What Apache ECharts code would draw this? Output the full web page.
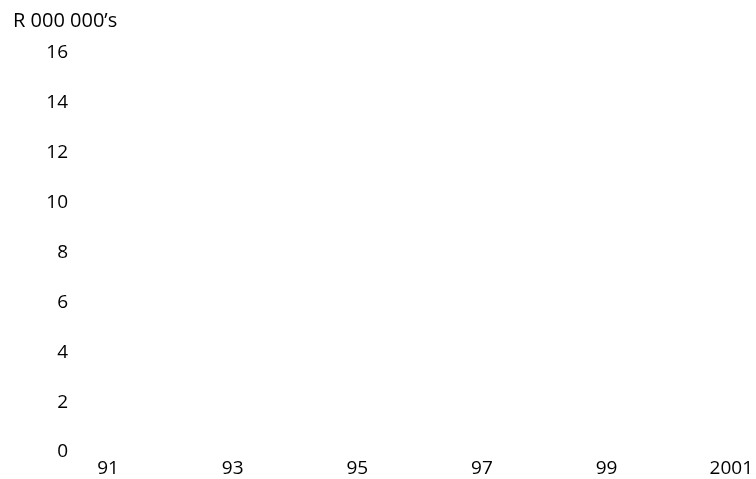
<!DOCTYPE html>
<html>
<head>
<meta charset="utf-8">
<script src="https://cdn.jsdelivr.net/npm/echarts@6/dist/echarts.min.js"></script>
<style>
html,body{margin:0;padding:0;background:#fff;}
#chart{width:756px;height:479px;}
</style>
</head>
<body>
<div id="chart"></div>
<script>
const years = ['91','92','93','94','95','96','97','98','99','2000','2001'];
const seriesValues = []; // the reference shows no plotted data
const yTicks = [0, 2, 4, 6, 8, 10, 12, 14, 16];
const unitLabel = 'R 000 000\u2019s';

const FONT = '"Open Sans", sans-serif';
const FS = 19;
const chart = echarts.init(document.getElementById('chart'));
chart.setOption({
  animation: false,
  backgroundColor: '#fff',
  title: {
    text: unitLabel,
    left: 8, top: 6,
    textStyle: { fontFamily: FONT, fontSize: 20, fontWeight: 'normal', color: '#000' }
  },
  grid: { left: 108, right: 24, top: 53, bottom: 27, containLabel: false },
  xAxis: {
    type: 'category',
    data: years,
    boundaryGap: false,
    axisLine: { show: false },
    axisTick: { show: false },
    splitLine: { show: false },
    axisLabel: {
      interval: 1,
      margin: 7,
      fontFamily: FONT, fontSize: FS, color: '#000'
    }
  },
  yAxis: {
    type: 'value',
    min: yTicks[0],
    max: yTicks[yTicks.length - 1],
    interval: yTicks[1] - yTicks[0],
    axisLine: { show: false },
    axisTick: { show: false },
    splitLine: { show: false },
    axisLabel: {
      margin: 40,
      fontFamily: FONT, fontSize: FS, color: '#000'
    }
  },
  series: [{
    type: 'line',
    data: seriesValues,
    showSymbol: false,
    lineStyle: { color: '#000' }
  }]
});
</script>
</body>
</html>
